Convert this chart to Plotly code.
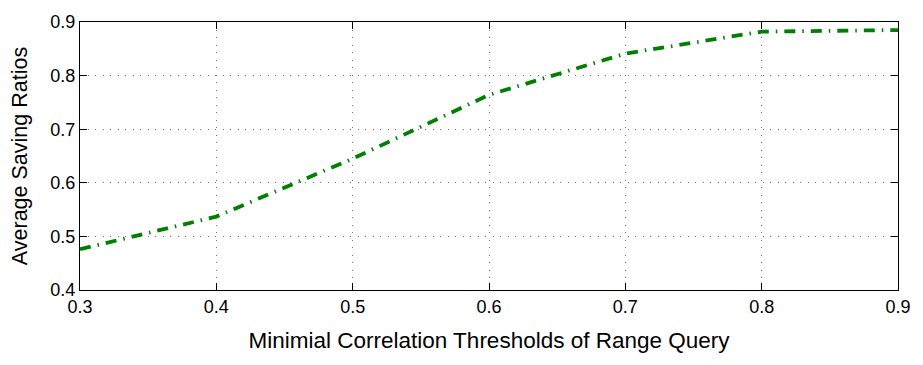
import plotly.graph_objects as go

thresholds = [0.3, 0.4, 0.5, 0.6, 0.7, 0.8, 0.9]
saving_ratios = [0.476, 0.537, 0.645, 0.764, 0.841, 0.882, 0.885]
x_ticks = [0.3, 0.4, 0.5, 0.6, 0.7, 0.8, 0.9]
y_ticks = [0.4, 0.5, 0.6, 0.7, 0.8, 0.9]

fig = go.Figure()
fig.add_trace(go.Scatter(
    x=thresholds, y=saving_ratios, mode="lines",
    line=dict(color="#008000", width=3.8, dash="11px,7px,1.5px,7px", shape="linear"),
    showlegend=False, hoverinfo="skip",
))

axis_common = dict(
    showline=True, linecolor="black", linewidth=1.3, mirror="ticks",
    ticks="inside", ticklen=7, tickcolor="black",
    showgrid=True, gridcolor="#777777", griddash="1px,6.5px", gridwidth=1,
    zeroline=False,
    tickfont=dict(family="Liberation Sans, Arial", size=18, color="black"),
)

fig.update_layout(
    width=923, height=365,
    margin=dict(l=80, r=19, t=16, b=75),
    paper_bgcolor="white", plot_bgcolor="white",
    font=dict(family="Liberation Sans, Arial", color="black"),
    xaxis=dict(range=[0.3, 0.9], tickvals=x_ticks, ticktext=[f"{v:.1f}" for v in x_ticks],
               title=dict(text="Minimial Correlation Thresholds of Range Query", font=dict(size=22.5), standoff=16),
               **axis_common),
    yaxis=dict(range=[0.4, 0.9], tickvals=y_ticks, ticktext=[f"{v:.1f}" for v in y_ticks],
               title=dict(text="Average Saving Ratios", font=dict(size=21.5), standoff=16),
               **axis_common),
)

fig.write_html("out.html", config={"displayModeBar": False},
               post_script="document.body.style.margin='0';document.body.style.overflow='hidden';")
